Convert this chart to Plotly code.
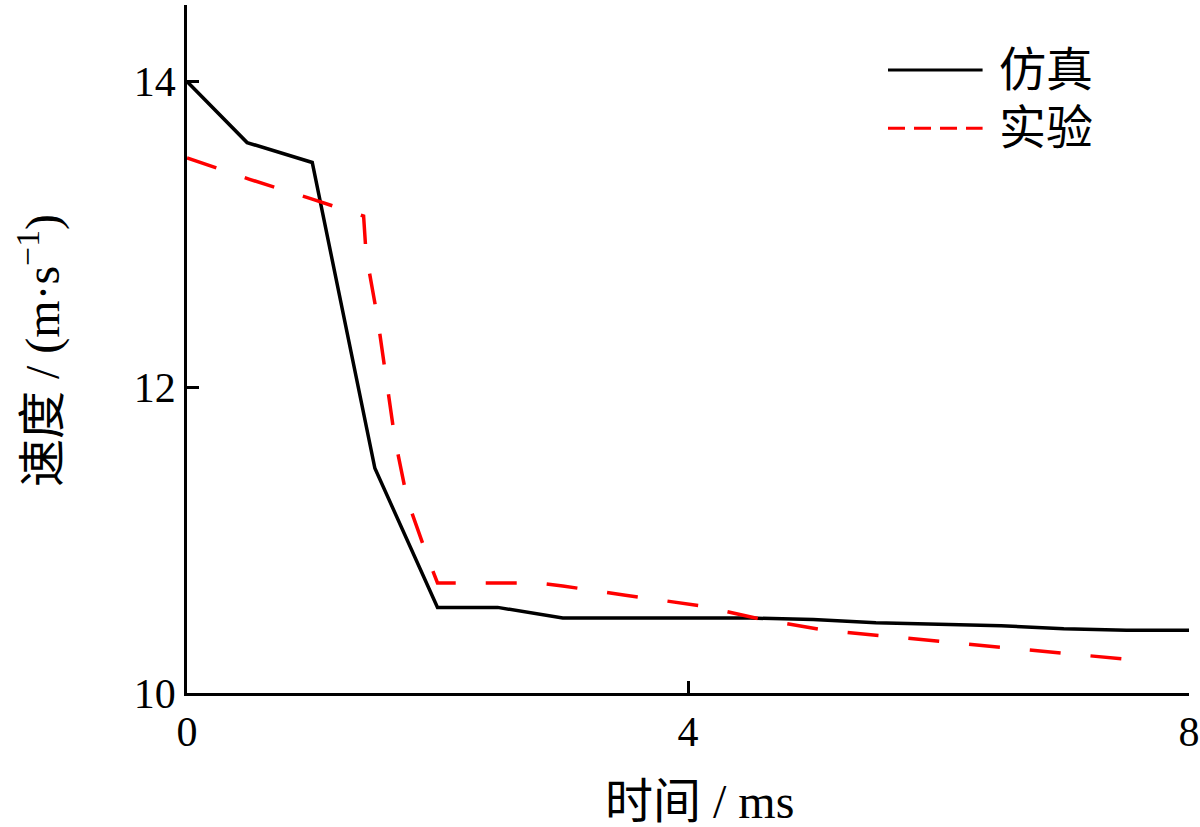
import plotly.graph_objects as go

# Simulation (仿真)
sim_t = [0.0, 0.48, 1.0, 1.5, 2.0, 2.48, 3.0, 3.5, 4.0, 4.5, 5.0, 5.5, 6.0, 6.5, 7.0, 7.5, 8.0]
sim_v = [14.0, 13.6, 13.47, 11.47, 10.56, 10.56, 10.49, 10.49, 10.49, 10.49, 10.48, 10.46, 10.45, 10.44, 10.42, 10.41, 10.41]

# Experiment (实验)
exp_t = [0.0, 0.5, 1.0, 1.41, 1.43, 1.52, 1.66, 1.76, 1.92, 2.0, 2.8, 3.0, 3.5, 4.1, 4.6, 5.1, 5.6, 6.1, 6.6, 7.1, 7.63]
exp_v = [13.5, 13.36, 13.23, 13.12, 12.87, 12.46, 11.66, 11.26, 10.89, 10.72, 10.72, 10.7, 10.64, 10.57, 10.48, 10.41, 10.37, 10.33, 10.29, 10.25, 10.21]

x_ticks = [0, 4, 8]
y_ticks = [10, 12, 14]
series_names = ["仿真", "实验"]

FONT = "Liberation Serif, Noto Sans CJK SC"

fig = go.Figure()
fig.add_trace(go.Scatter(x=sim_t, y=sim_v, mode="lines", name=series_names[0],
                         line=dict(color="black", width=3.5), showlegend=False))
fig.add_trace(go.Scatter(x=exp_t, y=exp_v, mode="lines", name=series_names[1],
                         line=dict(color="#ff0000", width=3.5, dash="31px,30px"), showlegend=False))

# manual legend (long line samples)
legend_rows = [(0.9055, "black", "solid"), (0.821, "#ff0000", "17px,9px")]
for (yy, col, dsh), nm in zip(legend_rows, series_names):
    fig.add_shape(type="line", xref="paper", yref="paper", x0=0.6996, x1=0.794, y0=yy, y1=yy,
                  line=dict(color=col, width=3, dash=dsh))
    fig.add_annotation(xref="paper", yref="paper", x=0.808, y=yy, xanchor="left", yanchor="middle",
                       text=nm, showarrow=False, font=dict(size=47, family=FONT))

# axis titles
fig.add_annotation(xref="paper", yref="paper", x=-0.1477, y=0.497, xanchor="center", yanchor="middle",
                   textangle=-90, text="速度 / (m·s<sup>−1</sup>)", showarrow=False,
                   font=dict(size=48, family=FONT))
fig.add_annotation(xref="paper", yref="paper", x=0.511, y=-0.157, xanchor="center", yanchor="middle",
                   text="时间 / ms", showarrow=False, font=dict(size=48, family=FONT))

fig.update_layout(
    width=1200, height=827,
    margin=dict(l=187, r=11, t=5, b=134),
    paper_bgcolor="white", plot_bgcolor="white",
    font=dict(family=FONT, size=40, color="black"),
    showlegend=False,
    xaxis=dict(range=[0, 8], tickvals=x_ticks, ticktext=[str(v) for v in x_ticks],
               ticks="inside", ticklen=12, tickwidth=2.5, tickcolor="black",
               showline=True, linecolor="black", linewidth=2.5,
               showgrid=False, zeroline=False, automargin=False,
               tickfont=dict(size=42)),
    yaxis=dict(range=[10, 14.5], tickvals=y_ticks, ticktext=[str(v) for v in y_ticks],
               ticks="inside", ticklen=12, tickwidth=2.5, tickcolor="black",
               showline=True, linecolor="black", linewidth=2.5,
               showgrid=False, zeroline=False, automargin=False,
               tickfont=dict(size=42)),
)

fig.write_html("out.html")
